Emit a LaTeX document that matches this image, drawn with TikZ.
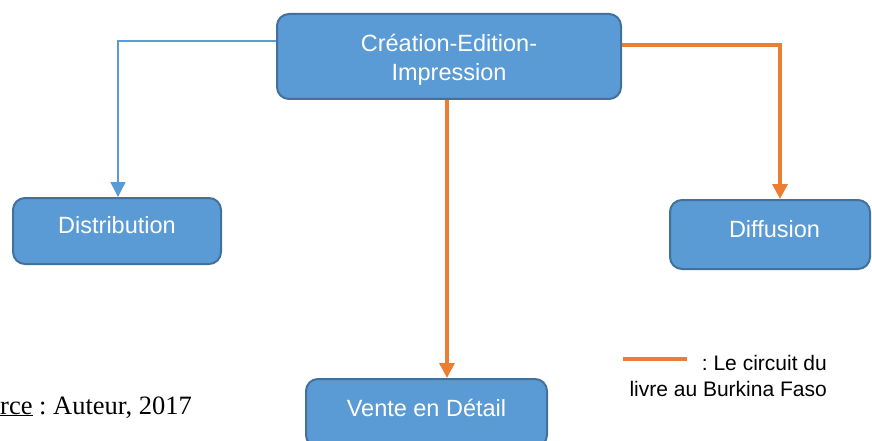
\documentclass[tikz,border=0pt]{standalone}
\usepackage{fontspec}
\setmainfont{Liberation Serif}
\newfontfamily\arialf{Liberation Sans}
\usetikzlibrary{arrows.meta}
\definecolor{boxfill}{HTML}{5B9BD5}
\definecolor{boxline}{HTML}{41719C}
\definecolor{orng}{HTML}{ED7D31}
\frenchspacing
\begin{document}
\begin{tikzpicture}[x=1pt,y=-1pt,
 box/.style={draw=boxline, fill=boxfill, line width=2pt, rounded corners=12pt, inner sep=0pt},
 boxtext/.style={text=white, font=\arialf\fontsize{23.5}{29}\selectfont, align=center, inner sep=0pt},
 legtextstyle/.style={text=black, font=\arialf\fontsize{21}{26}\selectfont, align=right, inner sep=0pt},
 srcstyle/.style={text=black, font=\fontsize{26.5}{30}\selectfont, inner sep=0pt},
 orangearrow/.style={draw=orng, line width=3.3pt, -{Triangle[length=15pt 0,width=15pt 0]}},
 bluearrow/.style={draw=boxfill, line width=1.5pt, -{Triangle[length=15pt 0,width=15pt 0]}},
]
\useasboundingbox (0,0) rectangle (872,441);
\clip (0,0) rectangle (872,441);

% boxes
\node[box, minimum width=344pt, minimum height=85pt] (top) at (449,56.5) {};
\node[box, minimum width=208pt, minimum height=66pt] (dist) at (117,231) {};
\node[box, minimum width=200pt, minimum height=69pt] (diff) at (770,234.5) {};
\node[box, minimum width=241pt, minimum height=68pt] (vente) at (426.5,413) {};

% box texts
\node[boxtext, anchor=base] (ttop) at (449,81) {Création-Edition-\\Impression};
\node[boxtext, anchor=base] (tdist) at (117,233) {Distribution};
\node[boxtext, anchor=base] (tdiff) at (774.5,237) {Diffusion};
\node[boxtext, anchor=base] (tvente) at (426.5,416) {Vente en Détail};

% connectors
\coordinate (bl) at (118,41);
\draw[bluearrow] (top.west |- bl) -- (bl) -- (bl |- dist.north);
\coordinate (orr) at (780,45);
\draw[orangearrow] (top.east |- orr) -- (orr) -- (orr |- diff.north);
\coordinate (od) at (447,100);
\draw[orangearrow] (top.south -| od) -- (vente.north -| od);

% legend
\coordinate (la) at (623,359);
\coordinate (lb) at (687,359);
\draw[draw=orng, line width=4pt] (la) -- (lb);
\node[legtextstyle, anchor=base east] (legtext) at (827,396) {: Le circuit du\\livre au Burkina Faso};

% source
\node[srcstyle, anchor=base west] (src) at (0,414) {\underline{rce} : Auteur, 2017};
\end{tikzpicture}
\end{document}
